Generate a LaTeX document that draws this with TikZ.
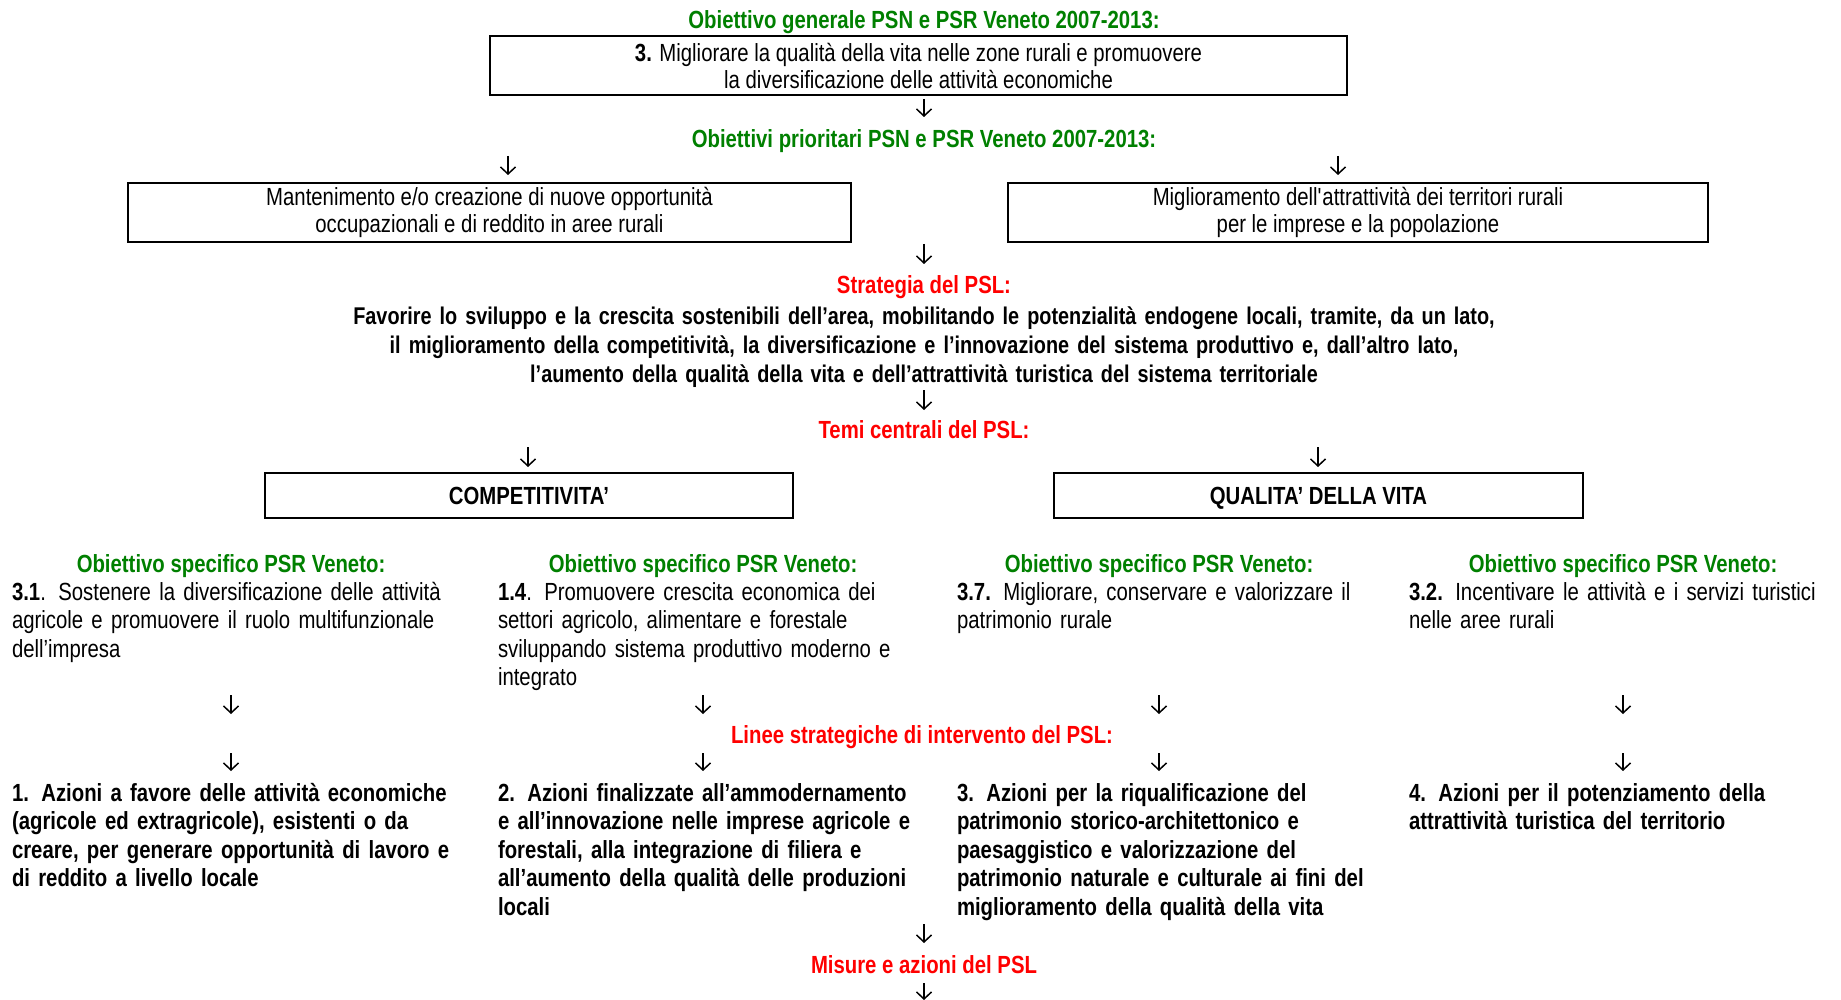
\documentclass[tikz,border=0pt]{standalone}
\usepackage{fontspec}
\setmainfont{Liberation Sans}[FakeStretch=0.82]
\usetikzlibrary{arrows.meta}
\definecolor{pgreen}{RGB}{0,128,0}
\definecolor{pred}{RGB}{255,0,0}
\newcommand\jl[1]{\makebox[\linewidth][s]{#1}}
\newcommand\fsz{\fontsize{12.4pt}{14.3pt}\selectfont}
\newcommand\fst{\fontsize{12.1pt}{14.5pt}\selectfont}
\newcommand\fbx{\fontsize{12.4pt}{13.5pt}\selectfont}
\begin{document}
\begin{tikzpicture}[x=0.5pt,y=-0.5pt,
  every node/.style={inner sep=0pt, outer sep=0pt},
  ghead/.style={text=pgreen, font=\fsz\bfseries, anchor=base},
  rhead/.style={text=pred, font=\fsz\bfseries, anchor=base},
  framebox/.style={draw, line width=1pt, align=center, font=\fbx},
  themebox/.style={draw, line width=1pt, align=center, font=\fsz\bfseries, text height=9pt, text depth=0pt, minimum height=22.5pt},
  bodytxt/.style={anchor=base west, align=left, font=\fsz},
  boldtxt/.style={anchor=base west, align=left, font=\fsz\bfseries},
  arr/.style={line width=0.75pt, -{Straight Barb[length=3.5pt,width=7.5pt,line width=0.75pt]}},
]
\fill[white] (0,0) rectangle (1841,1000);
\useasboundingbox (0,0) rectangle (1841,1000);

% top
\node[ghead] (t1) at (924,29) {Obiettivo generale PSN e PSR Veneto 2007-2013:};
\node[framebox, minimum width=428.5pt, minimum height=29.5pt] (b1) at (918.5,65.5)
  {\textbf{3.} Migliorare la qualità della vita nelle zone rurali e promuovere\\la diversificazione delle attività economiche};
\node[ghead] (t2) at (924,148) {Obiettivi prioritari PSN e PSR Veneto 2007-2013:};
\node[framebox, minimum width=361.5pt, minimum height=29.5pt] (bl) at (489.5,212.5)
  {Mantenimento e/o creazione di nuove opportunità\\occupazionali e di reddito in aree rurali};
\node[framebox, minimum width=350pt, minimum height=29.5pt] (br) at (1358,212.5)
  {Miglioramento dell\textquotesingle attrattività dei territori rurali\\per le imprese e la popolazione};

% strategy
\node[rhead] (t3) at (924,293) {Strategia del PSL:};
\node[anchor=base, align=center, text width=600pt, font=\fst\bfseries] (strat) at (924,324)
  {Favorire lo sviluppo e la crescita sostenibili dell’area, mobilitando le potenzialità endogene locali, tramite, da un lato,\\
   il miglioramento della competitività, la diversificazione e l’innovazione del sistema produttivo e, dall’altro lato,\\
   l’aumento della qualità della vita e dell’attrattività turistica del sistema territoriale};
\node[rhead] (t4) at (924,438) {Temi centrali del PSL:};
\node[themebox, minimum width=264pt] (bc) at (529,495.5) {COMPETITIVITA’};
\node[themebox, minimum width=264.5pt] (bq) at (1318.5,495.5) {QUALITA’ DELLA VITA};

% specific objectives
\node[ghead] (g1) at (231,572) {Obiettivo specifico PSR Veneto:};
\node[ghead] (g2) at (703,572) {Obiettivo specifico PSR Veneto:};
\node[ghead] (g3) at (1159,572) {Obiettivo specifico PSR Veneto:};
\node[ghead] (g4) at (1623,572) {Obiettivo specifico PSR Veneto:};

\node[bodytxt, text width=219.5pt] (o1) at (12,600)
  {\jl{\textbf{3.1}. Sostenere la diversificazione delle attività}\\
   \jl{agricole e promuovere il ruolo multifunzionale}\\
   dell’impresa};
\node[bodytxt, text width=205.5pt] (o2) at (498,600)
  {\jl{\textbf{1.4}. Promuovere crescita economica dei}\\
   \jl{settori agricolo, alimentare e forestale}\\
   \jl{sviluppando sistema produttivo moderno e}\\
   integrato};
\node[bodytxt, text width=202pt] (o3) at (957,600)
  {\jl{\textbf{3.7.} Migliorare, conservare e valorizzare il}\\
   patrimonio rurale};
\node[bodytxt, text width=214pt] (o4) at (1409,600)
  {\jl{\textbf{3.2.} Incentivare le attività e i servizi turistici}\\
   nelle aree rurali};

\node[rhead] (t5) at (922,743) {Linee strategiche di intervento del PSL:};

\node[boldtxt, text width=219.5pt] (l1) at (12,801)
  {\jl{1. Azioni a favore delle attività economiche}\\
   \jl{(agricole ed extragricole), esistenti o da}\\
   \jl{creare, per generare opportunità di lavoro e}\\
   di reddito a livello locale};
\node[boldtxt, text width=205.5pt] (l2) at (498,801)
  {\jl{2. Azioni finalizzate all’ammodernamento}\\
   \jl{e all’innovazione nelle imprese agricole e}\\
   \jl{forestali, alla integrazione di filiera e}\\
   \jl{all’aumento della qualità delle produzioni}\\
   locali};
\node[boldtxt, text width=202pt] (l3) at (957,801)
  {\jl{3. Azioni per la riqualificazione del}\\
   \jl{patrimonio storico-architettonico e}\\
   \jl{paesaggistico e valorizzazione del}\\
   \jl{patrimonio naturale e culturale ai fini del}\\
   miglioramento della qualità della vita};
\node[boldtxt, text width=214pt] (l4) at (1409,801)
  {\jl{4. Azioni per il potenziamento della}\\
   attrattività turistica del territorio};

\node[rhead] (t6) at (924,973) {Misure e azioni del PSL};

% arrows
\coordinate (a1s) at (924,99);  \coordinate (a1e) at (924,117);
\coordinate (a2s) at (508,156); \coordinate (a2e) at (508,175);
\coordinate (a3s) at (1338,156);\coordinate (a3e) at (1338,175);
\coordinate (a4s) at (924,244); \coordinate (a4e) at (924,264);
\coordinate (a5s) at (924,390); \coordinate (a5e) at (924,410);
\coordinate (a6s) at (528,447); \coordinate (a6e) at (528,467);
\coordinate (a7s) at (1318,447);\coordinate (a7e) at (1318,467);
\coordinate (r1s) at (231,695); \coordinate (r1e) at (231,714);
\coordinate (r2s) at (703,695); \coordinate (r2e) at (703,714);
\coordinate (r3s) at (1159,695);\coordinate (r3e) at (1159,714);
\coordinate (r4s) at (1623,695);\coordinate (r4e) at (1623,714);
\coordinate (s1s) at (231,753); \coordinate (s1e) at (231,771);
\coordinate (s2s) at (703,753); \coordinate (s2e) at (703,771);
\coordinate (s3s) at (1159,753);\coordinate (s3e) at (1159,771);
\coordinate (s4s) at (1623,753);\coordinate (s4e) at (1623,771);
\coordinate (a8s) at (924,924); \coordinate (a8e) at (924,943);
\coordinate (a9s) at (924,983); \coordinate (a9e) at (924,1000);
\foreach \n in {a1,a2,a3,a4,a5,a6,a7,r1,r2,r3,r4,s1,s2,s3,s4,a8,a9}
  \draw[arr] (\n s) -- (\n e);
\end{tikzpicture}
\end{document}
